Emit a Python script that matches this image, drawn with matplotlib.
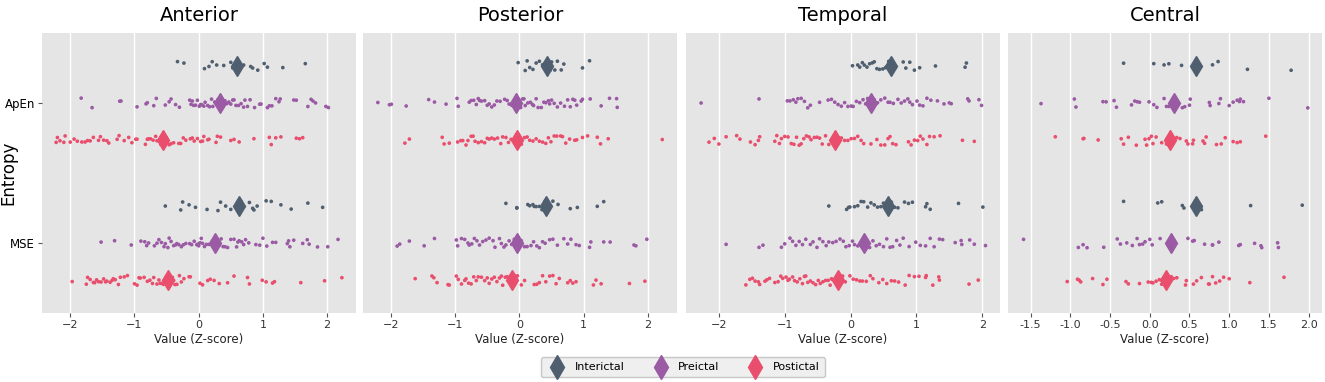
import numpy as np
import matplotlib
matplotlib.use("Agg")
import matplotlib.pyplot as plt
from matplotlib.lines import Line2D

# Regions, measures and states
regions = ["Anterior", "Posterior", "Temporal", "Central"]
measures = ["ApEn", "MSE"]
states = ["Interictal", "Preictal", "Postictal"]
colors = ["#4f5f70", "#9a5aa4", "#e94e6d"]

# Z-scores (one list per region / measure / state)
ant_apen_inter = [-0.33, -0.23, 0.09, 0.16, 0.21, 0.28, 0.39, 0.50, 0.53, 0.60, 0.64, 0.67,
                  0.70, 0.81, 0.84, 0.92, 1.02, 1.07, 1.31, 1.66]
ant_apen_pre = [-1.83, -1.66, -1.21, -1.23, -0.96, -0.82, -0.80, -0.70, -0.66, -0.52, -0.46,
                -0.43, -0.36, -0.30, -0.14, -0.12, -0.10, -0.08, -0.05, -0.02, 0.01, 0.03,
                0.05, 0.08, 0.10, 0.14, 0.17, 0.20, 0.22, 0.25, 0.28, 0.30, 0.33, 0.36, 0.38,
                0.41, 0.44, 0.47, 0.50, 0.53, 0.55, 0.58, 0.62, 0.66, 0.70, 0.72, 0.76, 0.80,
                0.87, 0.95, 0.97, 1.07, 1.10, 1.14, 1.20, 1.25, 1.27, 1.48, 1.52, 1.70, 1.75,
                1.78, 1.82, 1.98, 2.02]
ant_apen_post = [-2.22, -2.20, -2.16, -2.10, -2.08, -2.00, -1.94, -1.89, -1.82, -1.77, -1.73,
                 -1.69, -1.64, -1.56, -1.53, -1.48, -1.43, -1.40, -1.27, -1.24, -1.16, -1.09,
                 -1.04, -0.98, -0.96, -0.83, -0.80, -0.78, -0.75, -0.71, -0.67, -0.65, -0.59,
                 -0.54, -0.49, -0.46, -0.43, -0.39, -0.31, -0.28, -0.24, -0.20, -0.13, -0.10,
                 -0.07, -0.02, 0.03, 0.06, 0.08, 0.14, 0.16, 0.27, 0.29, 0.34, 0.50, 0.55,
                 0.63, 0.86, 1.10, 1.13, 1.20, 1.28, 1.52, 1.57, 1.62]
ant_mse_inter = [-0.52, -0.28, -0.25, -0.15, -0.05, 0.13, 0.30, 0.34, 0.42, 0.50, 0.66, 0.70,
                 0.79, 0.84, 0.86, 0.91, 1.05, 1.13, 1.28, 1.44, 1.70, 1.93]
ant_mse_pre = [-1.52, -1.31, -1.05, -0.90, -0.84, -0.81, -0.78, -0.69, -0.65, -0.62, -0.58,
               -0.54, -0.52, -0.48, -0.46, -0.43, -0.39, -0.36, -0.34, -0.31, -0.27, -0.24,
               -0.20, -0.14, -0.11, -0.07, -0.03, -0.01, 0.00, 0.02, 0.04, 0.06, 0.09, 0.12,
               0.16, 0.21, 0.25, 0.32, 0.35, 0.38, 0.41, 0.45, 0.50, 0.55, 0.59, 0.61, 0.63,
               0.67, 0.70, 0.73, 0.78, 0.89, 0.95, 1.00, 1.06, 1.15, 1.20, 1.38, 1.40, 1.42,
               1.48, 1.62, 1.69, 1.72, 1.85, 2.01, 2.17]
ant_mse_post = [-1.97, -1.75, -1.73, -1.69, -1.64, -1.62, -1.59, -1.56, -1.52, -1.48, -1.45,
                -1.43, -1.38, -1.35, -1.33, -1.30, -1.25, -1.22, -1.16, -1.11, -1.00, -0.96,
                -0.93, -0.91, -0.85, -0.80, -0.76, -0.72, -0.70, -0.65, -0.62, -0.60, -0.57,
                -0.55, -0.48, -0.46, -0.43, -0.41, -0.39, -0.37, -0.34, -0.30, -0.27, -0.23,
                -0.15, -0.13, 0.02, 0.06, 0.14, 0.18, 0.24, 0.32, 0.45, 0.55, 0.76, 0.79,
                0.99, 1.05, 1.15, 1.18, 1.59, 1.96, 2.23]

post_apen_inter = [-0.02, 0.09, 0.12, 0.16, 0.21, 0.26, 0.31, 0.36, 0.40, 0.42, 0.45, 0.48,
                   0.50, 0.55, 0.59, 0.65, 0.69, 0.98, 1.09]
post_apen_pre = [-2.20, -2.02, -1.99, -1.76, -1.41, -1.32, -1.14, -0.97, -0.95, -0.78, -0.75,
                 -0.71, -0.67, -0.64, -0.62, -0.59, -0.54, -0.50, -0.47, -0.43, -0.39, -0.35,
                 -0.30, -0.23, -0.19, -0.16, -0.12, -0.08, -0.04, 0.00, 0.02, 0.05, 0.07,
                 0.09, 0.13, 0.17, 0.20, 0.22, 0.26, 0.29, 0.34, 0.38, 0.41, 0.45, 0.47, 0.50,
                 0.54, 0.59, 0.64, 0.70, 0.75, 0.79, 0.83, 0.86, 0.89, 0.96, 0.98, 1.10,
                 1.27, 1.40, 1.51, 1.52]
post_apen_post = [-1.78, -1.71, -1.20, -1.17, -1.09, -0.96, -0.91, -0.88, -0.83, -0.80, -0.75,
                  -0.72, -0.69, -0.64, -0.59, -0.54, -0.50, -0.47, -0.43, -0.39, -0.34, -0.29,
                  -0.26, -0.21, -0.17, -0.13, -0.07, -0.02, 0.03, 0.08, 0.12, 0.16, 0.21,
                  0.26, 0.31, 0.36, 0.41, 0.45, 0.49, 0.54, 0.58, 0.64, 0.67, 0.72, 0.78,
                  0.86, 0.89, 0.98, 1.06, 1.21, 1.26, 1.38, 2.22]
post_mse_inter = [-0.21, -0.04, -0.04, 0.13, 0.16, 0.21, 0.23, 0.26, 0.31, 0.35, 0.38, 0.40,
                  0.44, 0.52, 0.60, 0.79, 0.90, 1.21, 1.31]
post_mse_pre = [-1.90, -1.86, -1.71, -1.48, -1.32, -0.98, -0.96, -0.90, -0.85, -0.80, -0.78,
                -0.74, -0.70, -0.66, -0.62, -0.57, -0.52, -0.47, -0.41, -0.38, -0.31, -0.28,
                -0.24, -0.21, -0.16, -0.12, -0.08, -0.03, 0.03, 0.08, 0.12, 0.18, 0.22, 0.27,
                0.31, 0.36, 0.40, 0.47, 0.52, 0.59, 0.69, 0.75, 0.80, 0.88, 0.93, 1.09, 1.11,
                1.31, 1.41, 1.78, 1.81, 1.98]
post_mse_post = [-1.62, -1.36, -1.33, -1.28, -1.11, -1.09, -0.98, -0.95, -0.90, -0.85, -0.83,
                 -0.79, -0.75, -0.71, -0.67, -0.64, -0.59, -0.54, -0.50, -0.47, -0.43, -0.39,
                 -0.35, -0.31, -0.28, -0.26, -0.22, -0.19, -0.14, -0.12, -0.10, -0.07, -0.03,
                 0.03, 0.08, 0.23, 0.27, 0.31, 0.36, 0.41, 0.47, 0.52, 0.57, 0.62, 0.75, 0.79,
                 0.83, 0.88, 1.15, 1.19, 1.27, 1.71, 1.95]

temp_apen_inter = [0.03, 0.11, 0.14, 0.18, 0.21, 0.25, 0.29, 0.33, 0.36, 0.40, 0.44, 0.49,
                   0.53, 0.55, 0.58, 0.60, 0.64, 0.68, 0.80, 0.84, 0.90, 0.97, 1.05, 1.29,
                   1.74, 1.76]
temp_apen_pre = [-2.27, -1.39, -0.96, -0.92, -0.87, -0.83, -0.80, -0.75, -0.70, -0.65, -0.61,
                 -0.47, -0.34, -0.29, -0.24, -0.19, -0.14, -0.09, -0.04, 0.01, 0.04, 0.09,
                 0.14, 0.19, 0.23, 0.26, 0.31, 0.36, 0.41, 0.46, 0.52, 0.57, 0.60, 0.65, 0.72,
                 0.77, 0.82, 0.87, 0.90, 0.94, 1.01, 1.05, 1.10, 1.16, 1.22, 1.32, 1.42, 1.50,
                 1.53, 1.78, 1.80, 1.95, 1.99]
temp_apen_post = [-2.15, -2.07, -2.00, -1.89, -1.73, -1.68, -1.52, -1.45, -1.40, -1.38, -1.15,
                  -1.12, -1.08, -1.05, -1.00, -0.95, -0.90, -0.86, -0.82, -0.78, -0.75, -0.71,
                  -0.67, -0.63, -0.60, -0.55, -0.51, -0.47, -0.43, -0.38, -0.33, -0.29, -0.26,
                  -0.24, -0.21, -0.19, -0.14, -0.09, -0.04, 0.01, 0.06, 0.11, 0.16, 0.20,
                  0.31, 0.40, 0.46, 0.52, 0.57, 0.60, 0.64, 0.69, 0.88, 0.92, 0.97, 1.02,
                  1.06, 1.10, 1.16, 1.20, 1.27, 1.36, 1.70, 1.88]
temp_mse_inter = [-0.33, -0.06, -0.03, -0.01, 0.06, 0.11, 0.16, 0.20, 0.26, 0.31, 0.36, 0.41,
                  0.46, 0.50, 0.55, 0.62, 0.67, 0.72, 0.82, 0.88, 0.94, 1.14, 1.16, 1.21,
                  1.64, 2.01]
temp_mse_pre = [-1.89, -1.39, -1.33, -1.05, -1.00, -0.92, -0.88, -0.83, -0.78, -0.73, -0.68,
                -0.61, -0.57, -0.51, -0.47, -0.42, -0.37, -0.33, -0.27, -0.22, -0.16, -0.11,
                -0.07, -0.02, 0.03, 0.06, 0.11, 0.16, 0.20, 0.24, 0.29, 0.34, 0.39, 0.44,
                0.50, 0.55, 0.60, 0.64, 0.70, 0.75, 0.80, 0.89, 0.99, 1.06, 1.14, 1.21, 1.27,
                1.35, 1.40, 1.59, 1.68, 1.69, 1.81, 1.88, 2.05]
temp_mse_post = [-1.59, -1.53, -1.49, -1.45, -1.40, -1.38, -1.30, -1.27, -1.23, -1.15, -1.10,
                 -1.06, -1.03, -0.98, -0.95, -0.93, -0.88, -0.85, -0.81, -0.77, -0.73, -0.70,
                 -0.68, -0.65, -0.61, -0.57, -0.53, -0.49, -0.46, -0.42, -0.38, -0.34, -0.31,
                 -0.29, -0.27, -0.22, -0.17, -0.12, -0.08, -0.01, 0.04, 0.09, 0.14, 0.18,
                 0.24, 0.30, 0.34, 0.43, 0.49, 0.55, 0.62, 0.67, 0.73, 0.83, 0.89, 0.97,
                 1.04, 1.14, 1.15, 1.25, 1.34, 1.35, 1.80, 1.94]

cent_apen_inter = [-0.33, 0.05, 0.18, 0.24, 0.40, 0.79, 0.86, 1.23, 1.78]
cent_apen_pre = [-1.37, -0.95, -0.93, -0.59, -0.55, -0.45, -0.42, -0.23, -0.19, -0.16, -0.13,
                 -0.01, 0.05, 0.09, 0.18, 0.21, 0.24, 0.33, 0.41, 0.44, 0.50, 0.51, 0.75,
                 0.76, 0.87, 0.89, 1.00, 1.05, 1.10, 1.13, 1.14, 1.18, 1.50, 1.99]
cent_apen_post = [-1.19, -0.84, -0.83, -0.65, -0.36, -0.33, -0.27, -0.17, -0.06, -0.04, -0.01,
                  0.02, 0.04, 0.08, 0.15, 0.21, 0.34, 0.38, 0.46, 0.48, 0.54, 0.55, 0.67,
                  0.69, 0.71, 0.84, 0.90, 0.95, 1.05, 1.10, 1.14, 1.46]
cent_mse_inter = [-0.33, 0.10, 0.15, 0.41, 0.43, 0.64, 0.65, 1.27, 1.92]
cent_mse_pre = [-1.59, -0.90, -0.84, -0.79, -0.58, -0.41, -0.37, -0.29, -0.22, -0.16, -0.13,
                -0.09, -0.06, 0.00, 0.03, 0.13, 0.31, 0.48, 0.54, 0.56, 0.69, 0.79, 0.79,
                0.87, 1.12, 1.14, 1.32, 1.40, 1.41, 1.61, 1.62]
cent_mse_post = [-1.04, -0.91, -0.89, -0.87, -0.72, -0.59, -0.54, -0.30, -0.27, -0.13, -0.02,
                 0.02, 0.04, 0.08, 0.12, 0.15, 0.24, 0.27, 0.30, 0.34, 0.45, 0.46, 0.55,
                 0.59, 0.65, 0.74, 0.75, 0.79, 0.83, 0.88, 0.93, 1.00, 1.26, 1.69]

# x-axis settings per panel
x_limits = [(-2.44, 2.45), (-2.43, 2.45), (-2.50, 2.27), (-1.785, 2.17)]
x_ticks = [[-2, -1, 0, 1, 2], [-2, -1, 0, 1, 2], [-2, -1, 0, 1, 2],
           [-1.5, -1.0, -0.5, 0.0, 0.5, 1.0, 1.5, 2.0]]

donnees = {
    "Anterior": [[ant_apen_inter, ant_apen_pre, ant_apen_post],
                 [ant_mse_inter, ant_mse_pre, ant_mse_post]],
    "Posterior": [[post_apen_inter, post_apen_pre, post_apen_post],
                  [post_mse_inter, post_mse_pre, post_mse_post]],
    "Temporal": [[temp_apen_inter, temp_apen_pre, temp_apen_post],
                 [temp_mse_inter, temp_mse_pre, temp_mse_post]],
    "Central": [[cent_apen_inter, cent_apen_pre, cent_apen_post],
                [cent_mse_inter, cent_mse_pre, cent_mse_post]],
}

# Jitter only moves points vertically inside their strip (layout, not data)
rng = np.random.default_rng(3)
dodge = 0.8 / 3
jitter = 0.035

fig = plt.figure(figsize=(13.25, 3.82), dpi=100)
lefts = [0.0317, 0.2740, 0.5177, 0.7608]
width = 0.2370

for k, region in enumerate(regions):
    ax = fig.add_axes([lefts[k], 0.1806, width, 0.733])
    ax.set_facecolor("#e5e5e5")
    for s in ax.spines.values():
        s.set_visible(False)

    for i, measure in enumerate(measures):
        for j, state in enumerate(states):
            vals = np.array(donnees[region][i][j])
            y0 = i + (j - 1) * dodge
            ys = y0 + rng.uniform(-jitter, jitter, len(vals))
            ax.scatter(vals, ys, s=7, color=colors[j], edgecolor="none", zorder=3)
            # moyenne
            ax.plot(vals.mean(), y0, marker="d", markersize=10, color=colors[j],
                    markeredgecolor=colors[j], zorder=4)

    ax.set_ylim(1.5, -0.5)
    ax.set_xlim(*x_limits[k])
    ax.set_xticks(x_ticks[k])
    if k == 3:
        ax.set_xticklabels([f"{t:.1f}" for t in x_ticks[k]])
    ax.grid(axis="x", color="white", linewidth=1.0)
    ax.set_axisbelow(True)
    ax.tick_params(axis="x", labelsize=8, colors="#333333", length=3, width=0.8,
                   color="#555555", pad=2)
    if k == 0:
        ax.set_yticks([0, 1])
        ax.set_yticklabels(measures)
        ax.tick_params(axis="y", labelsize=8.5, length=3, width=0.8,
                       color="#555555", pad=2)
        ax.set_ylabel("Entropy", fontsize=12)
        ax.yaxis.set_label_coords(-0.078, 0.5)
    else:
        ax.set_yticks([])
    ax.set_xlabel("Value (Z-score)", fontsize=8.5, labelpad=2, color="#222222")
    ax.set_title(region, fontsize=14, pad=9)

handles = [Line2D([0], [0], marker="d", linestyle="none", markersize=12,
                  color=c, label=s) for c, s in zip(colors, states)]
leg = fig.legend(handles=handles, loc="center", bbox_to_anchor=(0.5155, 0.038),
                 ncol=3, fontsize=8, frameon=True, handletextpad=0.6,
                 columnspacing=2.2, borderpad=0.45)
leg.get_frame().set_facecolor("#ebebeb")
leg.get_frame().set_edgecolor("#bbbbbb")

fig.savefig("out.png", dpi=100)
